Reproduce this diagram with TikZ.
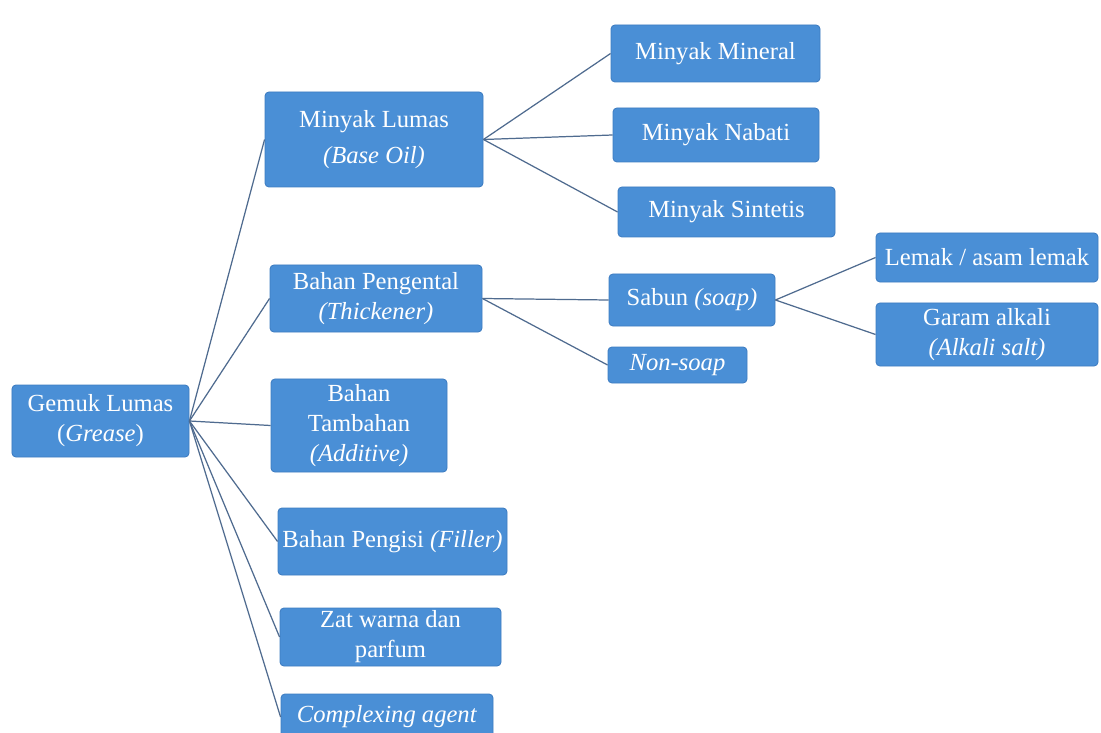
\documentclass[tikz,border=0pt]{standalone}
\usepackage{fontspec}
\setmainfont{Liberation Serif}
\usepackage{xcolor}
\usetikzlibrary{positioning}
\definecolor{boxblue}{HTML}{4A8FD6}
\definecolor{boxedge}{HTML}{3E7DC2}
\definecolor{linkgray}{HTML}{4F6B8F}
\tikzstyle{part} = [rectangle, rounded corners=0.8mm, draw=boxedge, fill=boxblue,
                    text=white, align=center, inner sep=1pt, line width=0.5pt,
                    font=\fontsize{14}{17}\selectfont]
\tikzstyle{link} = [draw=linkgray, line width=0.7pt]

\begin{document}
\begin{tikzpicture}[x=0.2mm, y=-0.2mm]
    \useasboundingbox[fill=white] (0,0) rectangle (1101,733);

    \node[part, minimum width=35.4mm, minimum height=14.4mm] (grease) at (100.5,421) {Gemuk Lumas\\(\textit{Grease})};

    \node[part, minimum width=43.6mm, minimum height=19mm] (baseoil) at (374,139.5) {Minyak Lumas\\[1.2mm]\textit{(Base Oil)}};
    \node[part, minimum width=42.4mm, minimum height=13.4mm] (thick) at (376,298.5) {Bahan Pengental\\\textit{(Thickener)}};
    \node[part, minimum width=35.2mm, minimum height=18.6mm] (additive) at (359,425.5) {Bahan\\Tambahan\\\textit{(Additive)}};
    \node[part, minimum width=45.8mm, minimum height=13.4mm] (filler) at (392.5,541.5) {Bahan Pengisi \textit{(Filler)}};
    \node[part, minimum width=44.2mm, minimum height=11.6mm] (colour) at (390.5,637) {Zat warna dan\\parfum};
    \node[part, minimum width=42.4mm, minimum height=9.2mm] (complex) at (387,717) {\textit{Complexing agent}};

    \node[part, minimum width=41.8mm, minimum height=11.4mm] (mineral) at (715.5,53.5) {Minyak Mineral};
    \node[part, minimum width=41.2mm, minimum height=10.8mm] (nabati) at (716,135) {Minyak Nabati};
    \node[part, minimum width=43.4mm, minimum height=10mm] (sintetis) at (726.5,212) {Minyak Sintetis};

    \node[part, minimum width=33.2mm, minimum height=10.4mm] (soap) at (692,300) {Sabun \textit{(soap)}};
    \node[part, minimum width=27.8mm, minimum height=7.2mm] (nonsoap) at (677.5,365) {\textit{Non-soap}};

    \node[part, minimum width=44.4mm, minimum height=9.8mm] (fat) at (987,257.5) {Lemak / asam lemak};
    \node[part, minimum width=44.4mm, minimum height=12.6mm] (alkali) at (987,334.5) {Garam alkali\\\textit{(Alkali salt)}};

    \foreach \n in {baseoil, thick, additive, filler, colour, complex}
        \draw[link] (grease.east) -- (\n.west);
    \foreach \n in {mineral, nabati, sintetis}
        \draw[link] (baseoil.east) -- (\n.west);
    \draw[link] (thick.east) -- (soap.west);
    \draw[link] (thick.east) -- (nonsoap.west);
    \draw[link] (soap.east) -- (fat.west);
    \draw[link] (soap.east) -- (alkali.west);
\end{tikzpicture}
\end{document}
